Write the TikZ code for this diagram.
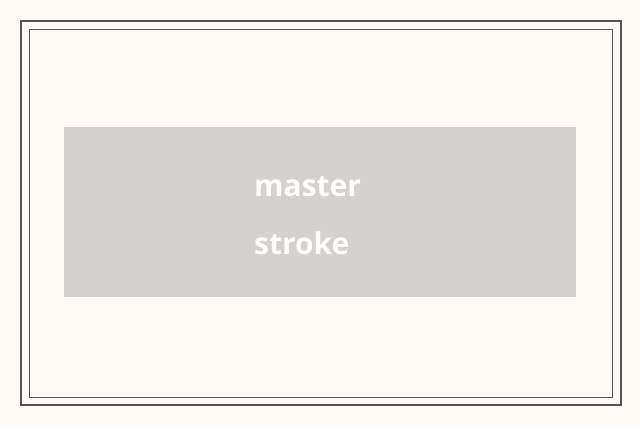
\documentclass[tikz,border=0pt]{standalone}
\usepackage{fontspec}
\setmainfont{Open Sans}
\definecolor{bg}{HTML}{FFF9F5}
\definecolor{box}{HTML}{D4D1CE}
\definecolor{frm}{HTML}{555555}
\begin{document}
\begin{tikzpicture}[x=1pt,y=-1pt]
\fill[bg] (0,0) rectangle (640,425);
\useasboundingbox (0,0) rectangle (640,425);
\draw[frm,line width=1.5pt] (21,21) rectangle (621,405);
\draw[frm,line width=0.7pt] (29,29) rectangle (612,397);
\node[fill=box,minimum width=512pt,minimum height=170pt,inner sep=0pt] (b) at (320,212) {};
\node[anchor=west,text=white,font=\fontsize{30}{58}\selectfont\bfseries,align=left,inner sep=0pt] (t) at (254,216) {master\\stroke};
\end{tikzpicture}
\end{document}
